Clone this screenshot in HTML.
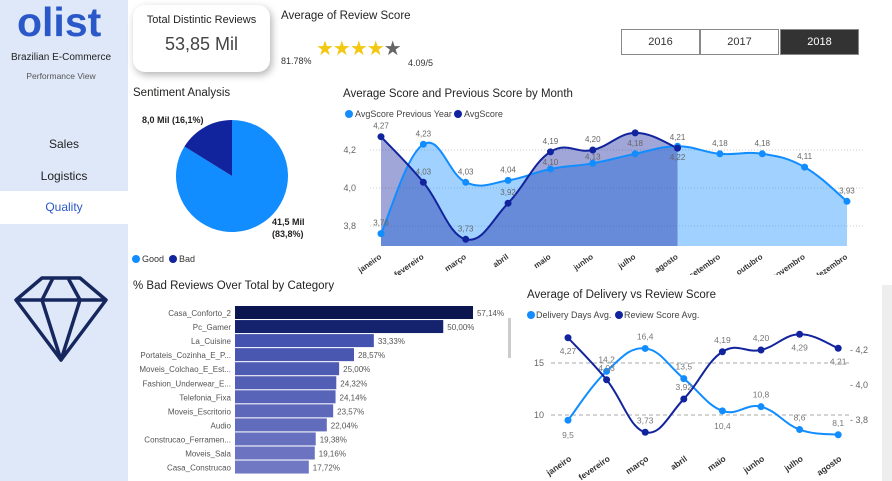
<!DOCTYPE html>
<html><head><meta charset="utf-8"><style>
body{margin:0;width:892px;height:481px;overflow:hidden;background:#fff;font-family:"Liberation Sans",sans-serif;position:relative}
.abs{position:absolute}
.side{left:0;top:0;width:128px;height:481px;background:#dfe8f8}
.nav{left:0;width:128px;text-align:center;font-size:12px;color:#222}
.title{font-size:11.5px;color:#252423}
.yr{top:29px;height:24px;width:77px;border:1px solid #888;font-size:11px;line-height:24px;text-align:center;color:#333;background:#fff}
svg text{font-family:"Liberation Sans",sans-serif}
</style></head><body>
<div class="abs side"></div>
<div class="abs" style="left:17px;top:2px;font-size:41px;line-height:40px;font-weight:bold;color:#2b58c8">olist</div>
<div class="abs" style="left:0;width:122px;text-align:center;top:52px;font-size:10px;color:#222">Brazilian E-Commerce</div>
<div class="abs" style="left:0;width:122px;text-align:center;top:71px;font-size:8.5px;color:#555">Performance View</div>
<div class="abs nav" style="top:137px">Sales</div>
<div class="abs nav" style="top:169px">Logistics</div>
<div class="abs nav" style="top:191px;height:33px;line-height:33px;background:#fff;color:#2b58c8">Quality</div>
<svg class="abs" style="left:12px;top:272px" width="100" height="95">
<g fill="none" stroke="#16275e" stroke-width="3.5" stroke-linejoin="round"><polygon points="30,6 68,6 94,28 49,88 4,28"/><line x1="4" y1="28" x2="94" y2="28"/><polyline points="41,6 30,28 49,88 68,28 56,6"/></g></svg>

<div class="abs" style="left:133px;top:5px;width:137px;height:67px;background:#fff;border-radius:12px;box-shadow:2px 3px 8px rgba(0,0,0,0.3)">
<div style="text-align:center;margin-top:9px;font-size:11px;color:#222">Total Distintic Reviews</div>
<div style="text-align:center;margin-top:8px;font-size:18px;color:#444">53,85 Mil</div></div>
<div class="abs title" style="left:281px;top:10px">Average of Review Score</div>
<div class="abs" style="left:316px;top:36px;font-size:20px;letter-spacing:-1px"><span style="color:#f2c811">★★★★</span><span style="color:#666">★</span></div>
<div class="abs" style="left:281px;top:56px;font-size:9px;color:#333">81.78%</div>
<div class="abs" style="left:408px;top:58px;font-size:9px;color:#333">4.09/5</div>
<div class="abs yr" style="left:621px">2016</div>
<div class="abs yr" style="left:700px">2017</div>
<div class="abs yr" style="left:780px;background:#333;color:#fff">2018</div>

<div class="abs title" style="left:133px;top:87px">Sentiment Analysis</div>
<svg class="abs" style="left:130px;top:100px" width="200" height="170" id="pie"></svg>

<div class="abs title" style="left:343px;top:88px">Average Score and Previous Score by Month</div>
<svg class="abs" style="left:330px;top:100px" width="540" height="175" id="line1"></svg>

<div class="abs title" style="left:133px;top:280px">% Bad Reviews Over Total by Category</div>
<svg class="abs" style="left:130px;top:296px" width="385" height="185" id="bars"></svg>

<div class="abs title" style="left:527px;top:289px">Average of Delivery vs Review Score</div>
<svg class="abs" style="left:515px;top:300px" width="370" height="181" id="line2"></svg>
<div class="abs" style="left:882px;top:285px;width:10px;height:196px;background:#eee"></div>

<script>
const NS="http://www.w3.org/2000/svg";
const pieLabels=["Good","Bad"];
const pieValues=[41.5,8.0];
const pieText=["41,5 Mil","8,0 Mil (16,1%)"];
const months=["janeiro","fevereiro","março","abril","maio","junho","julho","agosto","setembro","outubro","novembro","dezembro"];
const prevScore=[3.76,4.23,4.03,4.04,4.10,4.13,4.18,4.22,4.18,4.18,4.11,3.93];
const avgScore=[4.27,4.03,3.73,3.92,4.19,4.20,4.29,4.21];
const score1Ticks=[3.8,4.0,4.2];
const categories=["Casa_Conforto_2","Pc_Gamer","La_Cuisine","Portateis_Cozinha_E_P...","Moveis_Colchao_E_Est...","Fashion_Underwear_E...","Telefonia_Fixa","Moveis_Escritorio","Audio","Construcao_Ferramen...","Moveis_Sala","Casa_Construcao"];
const badPct=[57.14,50.00,33.33,28.57,25.00,24.32,24.14,23.57,22.04,19.38,19.16,17.72];
const delivMonths=["janeiro","fevereiro","março","abril","maio","junho","julho","agosto"];
const delivDays=[9.5,14.2,16.4,13.5,10.4,10.8,8.6,8.1];
const reviewScore=[4.27,4.03,3.73,3.92,4.19,4.20,4.29,4.21];
const delivTicks=[10,15];
const reviewTicks=[3.8,4.0,4.2];

function mk(p,t,a,txt){const e=document.createElementNS(NS,t);for(const k in a)e.setAttribute(k,a[k]);if(txt!=null)e.textContent=txt;p.appendChild(e);return e;}
function fmt(v,d){return v.toFixed(d).replace('.',',');}
function spline(pts){let d="M"+pts[0][0]+","+pts[0][1];for(let i=0;i<pts.length-1;i++){const p0=pts[i-1]||pts[i],p1=pts[i],p2=pts[i+1],p3=pts[i+2]||p2;const t=0.2;d+=" C"+(p1[0]+(p2[0]-p0[0])*t)+","+(p1[1]+(p2[1]-p0[1])*t)+" "+(p2[0]-(p3[0]-p1[0])*t)+","+(p2[1]-(p3[1]-p1[1])*t)+" "+p2[0]+","+p2[1];}return d;}

// Pie
(function(){const s=document.getElementById('pie');const cx=102,cy=76,r=56;const tot=pieValues[0]+pieValues[1];
const colors=["#118dff","#12239e"];
const angs=[pieValues[0]/tot*2*Math.PI,pieValues[1]/tot*2*Math.PI];
let start=-Math.PI/2;
[0,1].forEach(i=>{const end=start+angs[i];const x1=cx+r*Math.cos(start),y1=cy+r*Math.sin(start),x2=cx+r*Math.cos(end),y2=cy+r*Math.sin(end);
const e=mk(s,'path',{d:`M${cx},${cy} L${x1},${y1} A${r},${r} 0 ${angs[i]>Math.PI?1:0} 1 ${x2},${y2} Z`,fill:colors[i]});

start=end;});
mk(s,'text',{x:12,y:23,'font-size':9,'font-weight':'bold',fill:'#222'},pieText[1]);
mk(s,'text',{x:142,y:125,'font-size':9,'font-weight':'bold',fill:'#222'},pieText[0]);
mk(s,'text',{x:142,y:137,'font-size':9,'font-weight':'bold',fill:'#222'},"("+fmt(pieValues[0]/tot*100,1)+"%)");
mk(s,'circle',{cx:6,cy:159,r:4,fill:colors[0]});mk(s,'text',{x:12,y:162,'font-size':9,fill:'#333'},pieLabels[0]);
mk(s,'circle',{cx:43,cy:159,r:4,fill:colors[1]});mk(s,'text',{x:49,y:162,'font-size':9,fill:'#333'},pieLabels[1]);
})();

// Line 1
(function(){const s=document.getElementById('line1');
const x=i=>51+i*42.36,y=v=>50+(4.2-v)*190,base=146;
mk(s,'circle',{cx:19,cy:14,r:4,fill:'#118dff'});mk(s,'text',{x:25,y:17,'font-size':9,fill:'#444'},"AvgScore Previous Year");
mk(s,'circle',{cx:128,cy:14,r:4,fill:'#12239e'});mk(s,'text',{x:134,y:17,'font-size':9,fill:'#444'},"AvgScore");
score1Ticks.forEach(t=>{mk(s,'line',{x1:40,x2:535,y1:y(t),y2:y(t),stroke:'#ccc','stroke-dasharray':'1,2'});mk(s,'text',{x:26,y:y(t)+3,'font-size':9,fill:'#666','text-anchor':'end'},fmt(t,1));});
const pp=prevScore.map((v,i)=>[x(i),y(v)]),ap=avgScore.map((v,i)=>[x(i),y(v)]);
const d1=spline(pp),d2=spline(ap);
mk(s,'path',{d:d1+` L${x(prevScore.length-1)},${base} L${x(0)},${base} Z`,fill:'#118dff','fill-opacity':0.4});
mk(s,'path',{d:d2+` L${x(avgScore.length-1)},${base} L${x(0)},${base} Z`,fill:'#12239e','fill-opacity':0.4});
const l1=mk(s,'path',{d:d1,fill:'none',stroke:'#118dff','stroke-width':2});
const l2=mk(s,'path',{d:d2,fill:'none',stroke:'#12239e','stroke-width':2});
pp.forEach((p,i)=>{const c=mk(s,'circle',{cx:p[0],cy:p[1],r:3.5,fill:'#118dff'});
const below=(i===7||i===4||i===5);
mk(s,'text',{x:p[0],y:below?p[1]-(i===7?-14:4):p[1]-8,'font-size':8,fill:'#666','text-anchor':'middle'},fmt(prevScore[i],2));});
ap.forEach((p,i)=>{const c=mk(s,'circle',{cx:p[0],cy:p[1],r:3.5,fill:'#12239e'});
if(i===6)return;
mk(s,'text',{x:p[0],y:p[1]-8,'font-size':8,fill:'#666','text-anchor':'middle'},fmt(avgScore[i],2));});
months.forEach((m,i)=>{mk(s,'text',{x:x(i)+1,y:158,'font-size':8,'font-weight':'bold',fill:'#333','text-anchor':'end',transform:`rotate(-35 ${x(i)+1} 158)`},m);});
})();

// Bars
(function(){const s=document.getElementById('bars');const x0=105,k=4.165,bh=13,step=14.05;
badPct.forEach((v,i)=>{const yy=10+i*step;const t=i/(badPct.length-1);
const col=i===0?'#0b1550':i===1?'#15236e':`rgb(${Math.round(58+t*55)},${Math.round(75+t*45)},${Math.round(170+t*25)})`;
const b=mk(s,'rect',{x:x0,y:yy,width:v*k,height:bh,fill:col});
mk(s,'text',{x:x0-4,y:yy+10,'font-size':8,fill:'#555','text-anchor':'end'},categories[i]);
mk(s,'text',{x:x0+v*k+4,y:yy+10,'font-size':8,fill:'#555'},fmt(v,2)+"%");});
mk(s,'rect',{x:378,y:22,width:3,height:40,fill:'#ccc'});
})();

// Line 2
(function(){const s=document.getElementById('line2');
const x=i=>53+i*38.6,yl=v=>63+(15-v)*10.4,yr=v=>50+(4.2-v)*175;
mk(s,'circle',{cx:16,cy:15,r:4,fill:'#118dff'});mk(s,'text',{x:21,y:18,'font-size':9,fill:'#444'},"Delivery Days Avg.");
mk(s,'circle',{cx:104,cy:15,r:4,fill:'#12239e'});mk(s,'text',{x:109,y:18,'font-size':9,fill:'#444'},"Review Score Avg.");
delivTicks.forEach(t=>{mk(s,'line',{x1:36,x2:337,y1:yl(t),y2:yl(t),stroke:'#aaa','stroke-dasharray':'4,3'});mk(s,'text',{x:29,y:yl(t)+3,'font-size':9,fill:'#666','text-anchor':'end'},t);});
reviewTicks.forEach(t=>{mk(s,'text',{x:335,y:yr(t)+3,'font-size':9,fill:'#666'},"-  "+fmt(t,1));});
const dp=delivDays.map((v,i)=>[x(i),yl(v)]),rp=reviewScore.map((v,i)=>[x(i),yr(v)]);
const a=mk(s,'path',{d:spline(dp),fill:'none',stroke:'#118dff','stroke-width':2});
const b=mk(s,'path',{d:spline(rp),fill:'none',stroke:'#12239e','stroke-width':2});
dp.forEach((p,i)=>{const c=mk(s,'circle',{cx:p[0],cy:p[1],r:3.5,fill:'#118dff'});
mk(s,'text',{x:p[0],y:p[1]+(i===0||i===4?18:-9),'font-size':8.5,fill:'#777','text-anchor':'middle'},fmt(delivDays[i],1));});
rp.forEach((p,i)=>{const c=mk(s,'circle',{cx:p[0],cy:p[1],r:3.5,fill:'#12239e'});
const below=(i===0||i===6||i===7);mk(s,'text',{x:p[0],y:p[1]+(below?16:-9),'font-size':8.5,fill:'#777','text-anchor':'middle'},fmt(reviewScore[i],2));});
delivMonths.forEach((m,i)=>{mk(s,'text',{x:x(i)+4,y:160,'font-size':8.5,'font-weight':'bold',fill:'#333','text-anchor':'end',transform:`rotate(-35 ${x(i)+4} 160)`},m);});
})();
</script>
</body></html>
